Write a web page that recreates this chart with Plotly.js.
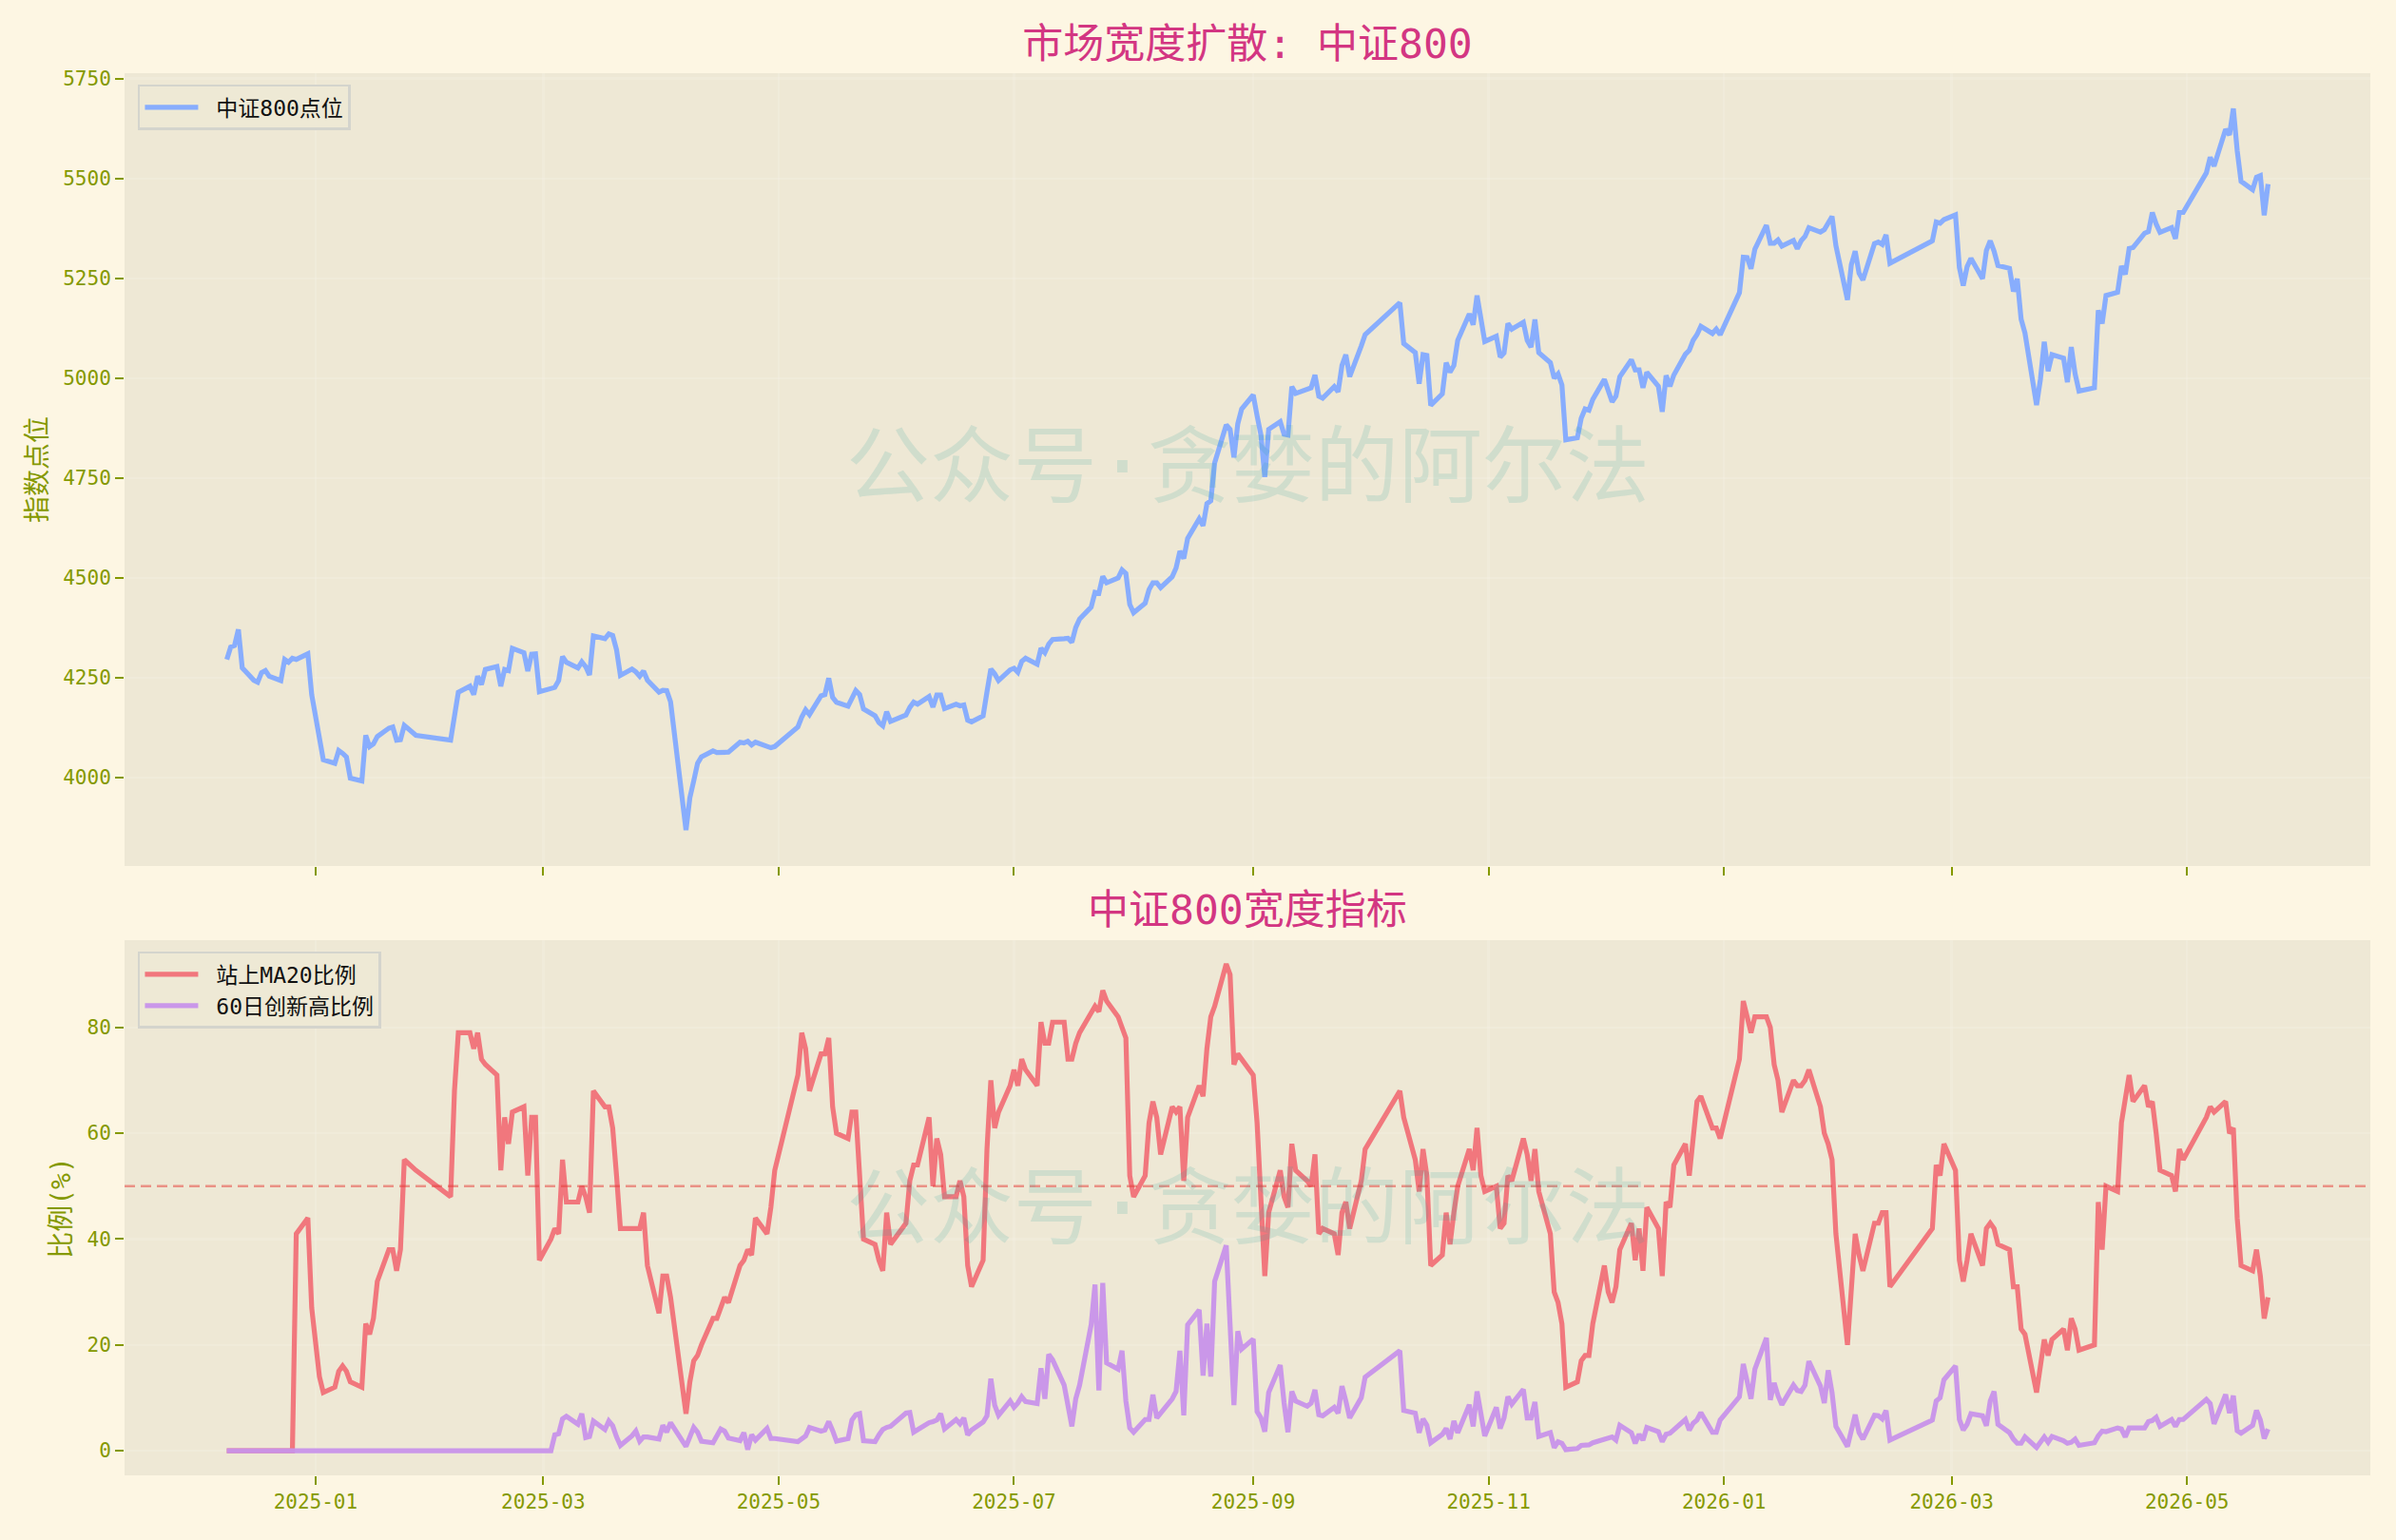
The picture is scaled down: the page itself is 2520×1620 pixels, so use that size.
<!DOCTYPE html>
<html>
<head>
<meta charset="utf-8">
<script src="https://cdn.plot.ly/plotly-3.0.1.min.js"></script>
<style>
  html, body { margin: 0; padding: 0; background: #fdf6e3; }
</style>
</head>
<body>
<div id="chart"></div>
<script>
const tradeDates = [
  '2024-12-09','2024-12-10','2024-12-11','2024-12-12','2024-12-13','2024-12-16','2024-12-17','2024-12-18','2024-12-19','2024-12-20','2024-12-23','2024-12-24','2024-12-25','2024-12-26','2024-12-27','2024-12-30','2024-12-31',
  '2025-01-02','2025-01-03','2025-01-06','2025-01-07','2025-01-08','2025-01-09','2025-01-10','2025-01-13','2025-01-14','2025-01-15','2025-01-16','2025-01-17','2025-01-20','2025-01-21','2025-01-22','2025-01-23','2025-01-24','2025-01-27',
  '2025-02-05','2025-02-06','2025-02-07','2025-02-10','2025-02-11','2025-02-12','2025-02-13','2025-02-14','2025-02-17','2025-02-18','2025-02-19','2025-02-20','2025-02-21','2025-02-24','2025-02-25','2025-02-26','2025-02-27','2025-02-28',
  '2025-03-03','2025-03-04','2025-03-05','2025-03-06','2025-03-07','2025-03-10','2025-03-11','2025-03-12','2025-03-13','2025-03-14','2025-03-17','2025-03-18','2025-03-19','2025-03-20','2025-03-21','2025-03-24','2025-03-25','2025-03-26','2025-03-27','2025-03-28','2025-03-31',
  '2025-04-01','2025-04-02','2025-04-03','2025-04-07','2025-04-08','2025-04-09','2025-04-10','2025-04-11','2025-04-14','2025-04-15','2025-04-16','2025-04-17','2025-04-18','2025-04-21','2025-04-22','2025-04-23','2025-04-24','2025-04-25','2025-04-28','2025-04-29','2025-04-30',
  '2025-05-06','2025-05-07','2025-05-08','2025-05-09','2025-05-12','2025-05-13','2025-05-14','2025-05-15','2025-05-16','2025-05-19','2025-05-20','2025-05-21','2025-05-22','2025-05-23','2025-05-26','2025-05-27','2025-05-28','2025-05-29','2025-05-30',
  '2025-06-03','2025-06-04','2025-06-05','2025-06-06','2025-06-09','2025-06-10','2025-06-11','2025-06-12','2025-06-13','2025-06-16','2025-06-17','2025-06-18','2025-06-19','2025-06-20','2025-06-23','2025-06-24','2025-06-25','2025-06-26','2025-06-27','2025-06-30',
  '2025-07-01','2025-07-02','2025-07-03','2025-07-04','2025-07-07','2025-07-08','2025-07-09','2025-07-10','2025-07-11','2025-07-14','2025-07-15','2025-07-16','2025-07-17','2025-07-18','2025-07-21','2025-07-22','2025-07-23','2025-07-24','2025-07-25','2025-07-28','2025-07-29','2025-07-30','2025-07-31',
  '2025-08-01','2025-08-04','2025-08-05','2025-08-06','2025-08-07','2025-08-08','2025-08-11','2025-08-12','2025-08-13','2025-08-14','2025-08-15','2025-08-18','2025-08-19','2025-08-20','2025-08-21','2025-08-22','2025-08-25','2025-08-26','2025-08-27','2025-08-28','2025-08-29',
  '2025-09-01','2025-09-02','2025-09-03','2025-09-04','2025-09-05','2025-09-08','2025-09-09','2025-09-10','2025-09-11','2025-09-12','2025-09-15','2025-09-16','2025-09-17','2025-09-18','2025-09-19','2025-09-22','2025-09-23','2025-09-24','2025-09-25','2025-09-26','2025-09-29','2025-09-30',
  '2025-10-09','2025-10-10','2025-10-13','2025-10-14','2025-10-15','2025-10-16','2025-10-17','2025-10-20','2025-10-21','2025-10-22','2025-10-23','2025-10-24','2025-10-27','2025-10-28','2025-10-29','2025-10-30','2025-10-31',
  '2025-11-03','2025-11-04','2025-11-05','2025-11-06','2025-11-07','2025-11-10','2025-11-11','2025-11-12','2025-11-13','2025-11-14','2025-11-17','2025-11-18','2025-11-19','2025-11-20','2025-11-21','2025-11-24','2025-11-25','2025-11-26','2025-11-27','2025-11-28',
  '2025-12-01','2025-12-02','2025-12-03','2025-12-04','2025-12-05','2025-12-08','2025-12-09','2025-12-10','2025-12-11','2025-12-12','2025-12-15','2025-12-16','2025-12-17','2025-12-18','2025-12-19','2025-12-22','2025-12-23','2025-12-24','2025-12-25','2025-12-26','2025-12-29','2025-12-30','2025-12-31',
  '2026-01-05','2026-01-06','2026-01-07','2026-01-08','2026-01-09','2026-01-12','2026-01-13','2026-01-14','2026-01-15','2026-01-16','2026-01-19','2026-01-20','2026-01-21','2026-01-22','2026-01-23','2026-01-26','2026-01-27','2026-01-28','2026-01-29','2026-01-30',
  '2026-02-02','2026-02-03','2026-02-04','2026-02-05','2026-02-06','2026-02-09','2026-02-10','2026-02-11','2026-02-12','2026-02-13','2026-02-24','2026-02-25','2026-02-26','2026-02-27',
  '2026-03-02','2026-03-03','2026-03-04','2026-03-05','2026-03-06','2026-03-09','2026-03-10','2026-03-11','2026-03-12','2026-03-13','2026-03-16','2026-03-17','2026-03-18','2026-03-19','2026-03-20','2026-03-23','2026-03-24','2026-03-25','2026-03-26','2026-03-27','2026-03-30','2026-03-31',
  '2026-04-01','2026-04-02','2026-04-03','2026-04-07','2026-04-08','2026-04-09','2026-04-10','2026-04-13','2026-04-14','2026-04-15','2026-04-16','2026-04-17','2026-04-20','2026-04-21','2026-04-22','2026-04-23','2026-04-24','2026-04-27','2026-04-28','2026-04-29','2026-04-30',
  '2026-05-06','2026-05-07','2026-05-08','2026-05-11','2026-05-12','2026-05-13','2026-05-14','2026-05-15','2026-05-18','2026-05-19','2026-05-20','2026-05-21','2026-05-22'
]

const indexClose = [
  4296,4327,4331,4371,4275,4244,4239,4263,4268,4254,4243,4296,4289,4299,4296,4310,4208,
  4089,4045,4036,4068,4061,4052,3999,3992,4106,4078,4085,4103,4124,4127,4094,4095,4131,4106,
  4094,4159,4214,4229,4208,4254,4233,4271,4278,4229,4271,4268,4324,4313,4267,4309,4310,4215,
  4221,4226,4243,4303,4289,4275,4290,4278,4257,4355,4348,4360,4356,4320,4256,4272,4265,4254,4267,4244,4214,
  4219,4218,4190,3869,3950,3992,4036,4052,4067,4063,4064,4064,4064,4089,4087,4091,4082,4089,4080,4075,4078,
  4127,4152,4170,4158,4205,4208,4249,4201,4189,4179,4201,4218,4208,4172,4155,4138,4130,4165,4141,
  4157,4176,4189,4184,4203,4177,4207,4207,4173,4184,4180,4182,4144,4140,4155,4215,4272,4260,4243,4270,
  4274,4264,4291,4299,4284,4324,4313,4334,4346,4348,4349,4339,4376,4397,4427,4464,4462,4504,4488,4500,4520,4511,4434,
  4413,4437,4471,4488,4488,4476,4503,4525,4567,4549,4599,4648,4631,4686,4693,4788,4883,4872,4802,4886,4923,
  4958,4906,4858,4753,4872,4891,4860,4858,4979,4962,4972,4976,5008,4955,4950,4979,4966,5032,5059,5004,5081,5109,
  5189,5087,5064,4986,5059,5057,4932,4961,5039,5015,5032,5095,5161,5134,5207,5151,5092,
  5105,5053,5063,5137,5123,5140,5095,5078,5147,5064,5039,5000,5011,4983,4846,4851,4900,4923,4920,4947,
  4997,4969,4941,4955,5004,5046,5021,5021,4976,5015,4980,4916,5007,4980,5008,5060,5070,5095,5109,5130,5112,5123,5109,
  5214,5303,5302,5274,5323,5383,5338,5338,5346,5331,5345,5324,5344,5355,5377,5366,5372,5391,5405,5332,
  5196,5284,5318,5263,5246,5337,5341,5335,5359,5288,5344,5391,5388,5397,
  5409,5277,5232,5279,5300,5249,5320,5344,5318,5282,5275,5217,5249,5148,5113,4933,4997,5091,5018,5059,5050,4990,
  5078,5011,4968,4976,5170,5137,5207,5215,5281,5260,5325,5327,5363,5367,5415,5386,5365,5377,5349,5415,5415,
  5514,5553,5531,5623,5609,5675,5570,5493,5472,5503,5507,5408,5486
]

const aboveMa20 = [
  0,0,0,0,0,0,0,0,0,0,0,0,0,0,41,44,27,
  14,11,12,15,16,15,13,12,24,22,25,32,38,38,34,38,55,53,
  48,68,79,79,76,79,74,73,71,53,63,58,64,65,52,63,63,36,
  40,42,41,55,47,47,50,48,45,68,65,65,61,52,42,42,42,42,45,35,26,
  33,33,29,7,13,17,18,20,25,25,27,29,28,35,36,38,37,44,41,46,53,
  71,79,76,68,75,75,78,65,60,59,64,64,52,40,39,36,34,45,39,
  43,51,54,54,63,50,59,56,48,48,51,48,35,31,36,57,70,61,64,69,
  72,69,74,72,69,81,77,77,81,81,74,74,77,79,83,84,83,87,85,82,80,78,52,
  48,52,62,66,63,56,65,64,65,51,63,69,67,76,82,84,92,90,73,75,74,
  71,62,48,33,45,53,48,46,58,53,51,50,56,41,42,41,37,45,47,42,51,57,
  68,63,55,49,57,52,35,37,45,39,45,50,57,53,61,52,49,
  50,42,43,52,51,59,56,51,57,49,41,30,28,24,12,13,17,18,18,24,
  35,30,28,31,38,43,36,42,34,46,42,33,47,46,54,58,52,59,66,67,61,61,59,
  74,85,82,79,82,82,80,73,70,64,70,69,69,70,72,65,60,58,55,41,
  20,30,41,37,34,43,43,45,45,31,42,54,52,58,
  53,36,32,36,41,35,42,43,42,39,38,31,31,23,22,11,16,21,18,21,23,19,
  25,23,19,20,47,38,50,49,62,67,71,66,69,65,66,60,53,52,49,57,55,
  63,65,64,66,60,61,44,35,34,38,33,25,29
]

const newHigh60 = [
  0,0,0,0,0,0,0,0,0,0,0,0,0,0,0,0,0,
  0,0,0,0,0,0,0,0,0,0,0,0,0,0,0,0,0,0,
  0,0,0,0,0,0,0,0,0,0,0,0,0,0,0,0,0,0,
  0,3,3.2,6,6.5,5,7,2.5,2.7,5.6,4,5.6,4.7,2.6,1,2.8,3.7,1.8,2.6,2.6,2.2,
  4.8,3.5,5.3,0.8,2.6,4.4,3.5,1.8,1.5,2.6,4.1,3.7,2.4,1.9,3.4,0.2,3,2,4.2,2.3,2.3,
  1.7,2.3,2.8,4.4,3.7,3.9,5.5,3.8,1.8,2.3,5.8,6.8,7,1.9,1.7,3,4,4.4,4.6,
  7.1,7.2,3.5,4,5.3,5.5,5.8,7,4.1,5.9,5.1,6.2,3,3.9,5.4,6.6,13.6,8.6,6.7,9.4,
  8.2,9,10.2,9.3,8.9,15.6,9.8,18.2,17.2,12.4,8.6,4.6,9.8,12.4,23.8,31.4,11.4,31.7,16.6,15.4,18.9,9.4,4.3,
  3.5,5.9,5.9,10.6,6.2,7.1,9.8,11.2,18.9,6.7,23.8,26.6,14.2,24,14,32,38.8,23.8,8.6,22.6,19.2,
  21.1,7.4,6.2,3.6,11,16.2,9,3.5,11.2,9.4,8.4,9,11.5,6.8,6.6,8.2,7.1,12.2,9.4,6.2,10,13.9,
  18.9,7.6,7.1,3.4,6,4.8,1.5,3.1,4.2,2.2,5.6,3.4,8.7,4.6,11.2,7,2.8,
  8.2,4.2,6.2,10.2,8.8,11.6,6.2,6.2,9.2,2.7,3.4,0.6,1.7,1.4,0.2,0.4,1,1,1.1,1.5,
  2.1,2.2,2.6,2,4.8,3.4,1.4,3.1,2,4.4,3.6,1.7,3.1,3.3,3.9,5.9,3.9,5.2,5.8,7.2,3.5,3.5,5.8,
  10.2,16.4,13,9.8,15.4,21.3,9.6,12.8,10.4,8.7,12.4,11.4,11.2,12.4,16.9,12.2,9,15.2,11,4.6,
  0.8,3.8,6.8,3.4,2.2,6.7,6.6,6,7.6,2,5.8,9.4,10,13.4,
  16,5.9,3.9,5,7,6.6,4.7,9.4,11.2,5,3.4,2.2,1.4,1.4,2.6,0.6,1.5,2.6,1.6,2.7,1.9,1.4,
  1.6,2.2,1,1.5,2.8,3.7,3.6,4.3,4.1,2.6,4.3,4.3,4.3,5.5,5.7,6.3,4.6,5.9,4.6,5.9,5.9,
  9.7,8.9,5.1,10.6,7.1,10.4,3.8,3.3,4.8,7.6,5.8,2.3,4.1
]

const thresholdLevel = 50
const xRange = ['2024-11-12 12:00', '2026-06-17 12:00']
const indexTicks = [4000, 4250, 4500, 4750, 5000, 5250, 5500, 5750]
const ratioTicks = [0, 20, 40, 60, 80]

const font = '"DejaVu Sans Mono", "Noto Sans CJK SC", monospace'
const green = '#859900'
const magenta = '#d33682'
const watermark = '公众号·贪婪的阿尔法'
const gridColor = 'rgba(255,255,255,0.13)'

function lineTrace(name, y, color, yaxis, legend) {
  return {
    x: tradeDates,
    y: y,
    // nbsp widens the gap between legend line and label
    name: '\u00A0' + name,
    type: 'scatter',
    mode: 'lines',
    xaxis: yaxis === 'y' ? 'x' : 'x2',
    yaxis: yaxis,
    legend: legend,
    showlegend: true,
    opacity: 0.95,
    line: { color: color, width: 5.2, shape: 'linear' }
  }
}

function xAxis(domainAnchor, showLabels) {
  return {
    type: 'date',
    range: xRange,
    anchor: domainAnchor,
    tick0: '2025-01-01',
    dtick: 'M2',
    tickformat: '%Y-%m',
    showticklabels: showLabels,
    ticks: 'outside',
    ticklen: 9,
    tickwidth: 2,
    tickcolor: green,
    tickfont: { family: font, size: 21, color: green },
    gridcolor: gridColor,
    gridwidth: 2.5,
    zeroline: false,
    showline: false
  }
}

function yAxis(title, range, tickvals, domain, anchor, standoff) {
  return {
    title: { text: title, font: { family: font, size: 28, color: green }, standoff: standoff },
    range: range,
    domain: domain,
    anchor: anchor,
    tickvals: tickvals,
    ticks: 'outside',
    ticklen: 9,
    tickwidth: 2,
    tickcolor: green,
    tickfont: { family: font, size: 21, color: green },
    gridcolor: gridColor,
    gridwidth: 2.5,
    zeroline: false,
    showline: false
  }
}

function legendBox(x, y) {
  return {
    x: x,
    y: y,
    xanchor: 'left',
    yanchor: 'top',
    bgcolor: 'rgba(238,232,213,0.8)',
    bordercolor: '#d4d4cd',
    borderwidth: 2.5,
    itemwidth: 56,
    font: { family: font, size: 23, color: '#111111' }
  }
}

function watermarkNote(y) {
  return {
    text: watermark,
    xref: 'paper',
    yref: 'paper',
    x: 0.5,
    y: y,
    xanchor: 'center',
    yanchor: 'middle',
    showarrow: false,
    font: { family: font, size: 88, color: 'rgba(42,161,152,0.15)' }
  }
}

const traces = [
  lineTrace('中证800点位', indexClose, '#82aaff', 'y', 'legend'),
  lineTrace('站上MA20比例', aboveMa20, '#f07178', 'y2', 'legend2'),
  lineTrace('60日创新高比例', newHigh60, '#c792ea', 'y2', 'legend2')
]

const layout = {
  width: 2520,
  height: 1620,
  margin: { l: 131, r: 27, t: 77, b: 68 },
  paper_bgcolor: '#fdf6e3',
  plot_bgcolor: '#eee8d5',
  showlegend: true,
  title: {
    text: '市场宽度扩散: 中证800',
    font: { family: font, size: 43, color: magenta },
    x: 0.5,
    xref: 'paper',
    xanchor: 'center',
    y: 0.9716,
    yanchor: 'middle'
  },
  xaxis: xAxis('y', false),
  xaxis2: xAxis('y2', true),
  yaxis: yAxis('指数点位', [3779, 5763.6], indexTicks, [0.4346, 1], 'x', 8),
  yaxis2: yAxis('比例(%)', [-4.66, 96.5], ratioTicks, [0, 0.3817], 'x2', 8),
  legend: legendBox(0.0059, 0.9919),
  legend2: legendBox(0.0059, 0.3736),
  shapes: [{
    type: 'line',
    xref: 'paper',
    yref: 'y2',
    x0: 0,
    x1: 1,
    y0: thresholdLevel,
    y1: thresholdLevel,
    line: { color: 'rgba(229,57,53,0.5)', width: 2.5, dash: '11px,6px' }
  }],
  annotations: [
    watermarkNote(0.7196),
    watermarkNote(0.1906),
    {
      text: '中证800宽度指标',
      xref: 'paper',
      yref: 'paper',
      x: 0.5,
      y: 0.4034,
      xanchor: 'center',
      yanchor: 'middle',
      showarrow: false,
      font: { family: font, size: 43, color: magenta }
    }
  ]
}

Plotly.newPlot('chart', traces, layout, { displayModeBar: false, staticPlot: true })
</script>
</body>
</html>
